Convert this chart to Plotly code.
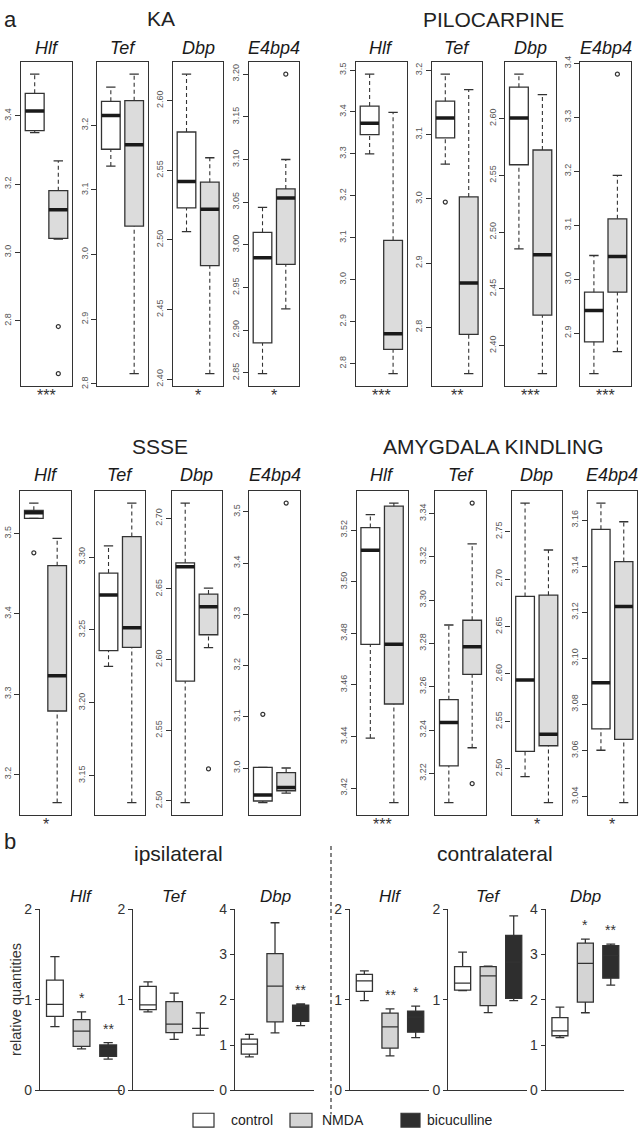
import plotly.graph_objects as go

W, H = 641, 1140

# ---------------- data: section a (R boxplots) ----------------
GENES_A = ["Hlf", "Tef", "Dbp", "E4bp4"]
# each box: (lower whisker, q1, median, q3, upper whisker)
KA_CONTROL = [(3.351, 3.357, 3.414, 3.466, 3.522),
              (3.137, 3.163, 3.215, 3.237, 3.259),
              (2.506, 2.523, 2.542, 2.5775, 2.619),
              (2.849, 2.885, 2.985, 3.0147, 3.044)]
KA_TREATED = [(3.039, 3.041, 3.125, 3.181, 3.268),
              (2.816, 3.044, 3.170, 3.238, 3.279),
              (2.404, 2.4815, 2.522, 2.5415, 2.559),
              (2.925, 2.977, 3.055, 3.0655, 3.100)]
KA_OUT_CONTROL = [[], [], [], []]
KA_OUT_TREATED = [[2.783, 2.645], [], [], [3.200]]
KA_STARS = ["***", "", "*", "*"]
KA_TICKS = [["2.8", "3.0", "3.2", "3.4"],
            ["2.8", "2.9", "3.0", "3.1", "3.2"],
            ["2.40", "2.45", "2.50", "2.55", "2.60"],
            ["2.85", "2.90", "2.95", "3.00", "3.05", "3.10", "3.15", "3.20"]]

PILO_CONTROL = [(3.300, 3.346, 3.373, 3.414, 3.490),
                (3.054, 3.095, 3.126, 3.152, 3.194),
                (2.4853, 2.5593, 2.6005, 2.6276, 2.639),
                (2.825, 2.884, 2.942, 2.976, 3.044)]
PILO_TREATED = [(2.776, 2.834, 2.871, 3.094, 3.399),
                (2.728, 2.789, 2.869, 3.003, 3.170),
                (2.3754, 2.4269, 2.480, 2.5723, 2.621),
                (2.866, 2.976, 3.042, 3.112, 3.1925)]
PILO_OUT_CONTROL = [[], [2.995], [], []]
PILO_OUT_TREATED = [[], [], [], [3.380]]
PILO_STARS = ["***", "**", "***", "***"]
PILO_TICKS = [["2.8", "2.9", "3.0", "3.1", "3.2", "3.3", "3.4", "3.5"],
              ["2.8", "2.9", "3.0", "3.1", "3.2"],
              ["2.40", "2.45", "2.50", "2.55", "2.60", "2.65"],
              ["2.9", "3.0", "3.1", "3.2", "3.3", "3.4"]]

SSSE_CONTROL = [(3.519, 3.519, 3.526, 3.529, 3.538),
                (3.225, 3.2358, 3.274, 3.289, 3.3077),
                (2.4988, 2.5847, 2.6657, 2.6685, 2.7108),
                (2.933, 2.936, 2.9475, 3.0015, 3.0015)]
SSSE_TREATED = [(3.165, 3.279, 3.323, 3.460, 3.494),
                (3.1315, 3.238, 3.2514, 3.314, 3.337),
                (2.6085, 2.6176, 2.6375, 2.6464, 2.6506),
                (2.9514, 2.956, 2.9625, 2.9914, 3.0003)]
SSSE_OUT_CONTROL = [[3.476], [], [], [3.105]]
SSSE_OUT_TREATED = [[], [], [2.5226], [3.5168]]
SSSE_STARS = ["*", "", "", ""]
SSSE_TICKS = [["3.2", "3.3", "3.4", "3.5"],
              ["3.15", "3.20", "3.25", "3.30"],
              ["2.50", "2.55", "2.60", "2.65", "2.70"],
              ["3.0", "3.1", "3.2", "3.3", "3.4", "3.5"]]

AMY_CONTROL = [(3.4394, 3.4757, 3.5122, 3.521, 3.526),
               (3.2065, 3.2234, 3.2435, 3.254, 3.2885),
               (2.492, 2.5184, 2.5938, 2.6817, 2.780),
               (3.0601, 3.0694, 3.0894, 3.156, 3.1674)]
AMY_TREATED = [(3.4144, 3.4526, 3.4758, 3.5293, 3.5305),
               (3.2318, 3.2657, 3.2784, 3.2907, 3.326),
               (2.4646, 2.5244, 2.5365, 2.683, 2.7306),
               (3.0374, 3.0648, 3.1225, 3.142, 3.1593)]
AMY_OUT_CONTROL = [[], [], [], []]
AMY_OUT_TREATED = [[], [3.3448, 3.2152], [], []]
AMY_STARS = ["***", "", "*", "*"]
AMY_TICKS = [["3.42", "3.44", "3.46", "3.48", "3.50", "3.52"],
             ["3.22", "3.24", "3.26", "3.28", "3.30", "3.32", "3.34"],
             ["2.50", "2.55", "2.60", "2.65", "2.70", "2.75"],
             ["3.04", "3.06", "3.08", "3.10", "3.12", "3.14", "3.16"]]

# ---------------- data: section b ----------------
GENES_B = ["Hlf", "Tef", "Dbp"]
GROUPS_B = ["control", "NMDA", "bicuculline"]
IPSI_CONTROL = [(0.702, 0.817, 0.948, 1.217, 1.475),
                (0.865, 0.890, 0.944, 1.148, 1.198),
                (0.74, 0.80, 1.02, 1.13, 1.235)]
IPSI_NMDA = [(0.458, 0.484, 0.654, 0.781, 0.865),
             (0.563, 0.636, 0.730, 0.980, 1.072),
             (1.27, 1.51, 2.30, 3.02, 3.70)]
IPSI_BIC = [(0.345, 0.375, 0.458, 0.501, 0.527),
            (0.610, 0.683, 0.683, 0.683, 0.854),
            (1.43, 1.525, 1.86, 1.88, 1.91)]
IPSI_STARS = [["", "*", "**"], ["", "", ""], ["", "", "**"]]
CONTRA_CONTROL = [(0.991, 1.093, 1.209, 1.281, 1.318),
                  (1.10, 1.107, 1.183, 1.365, 1.525),
                  (1.162, 1.205, 1.314, 1.604, 1.837)]
CONTRA_NMDA = [(0.381, 0.465, 0.701, 0.853, 0.900),
               (0.857, 0.936, 1.263, 1.365, 1.372),
               (1.713, 1.946, 2.802, 3.252, 3.339)]
CONTRA_BIC = [(0.581, 0.642, 0.809, 0.875, 0.929),
              (0.991, 1.016, 1.416, 1.710, 1.927),
              (2.323, 2.476, 2.976, 3.194, 3.230)]
CONTRA_STARS = [["", "**", "*"], ["", "", ""], ["", "*", "**"]]
B_TICKS = [[0, 1, 2], [0, 1, 2], [0, 1, 2, 3, 4]]

# ---------------- style ----------------
FONT = "Liberation Sans, Arial, sans-serif"
LINE = "#333333"
FILL_A = ["#ffffff", "#dcdcdc"]
FILL_B = ["#ffffff", "#d4d4d4", "#2e2e2e"]

fig = go.Figure()
lay = {}
ann = []
shp = []
counter = [0]


def px(v):
    return v / W


def py(v):
    return 1 - v / H


def new_axes(x0, x1, ytop, ybot, xkw, ykw):
    counter[0] += 1
    n = counter[0]
    sx = "" if n == 1 else str(n)
    lay["xaxis" + sx] = dict(domain=[px(x0), px(x1)], anchor="y" + sx, **xkw)
    lay["yaxis" + sx] = dict(domain=[py(ybot), py(ytop)], anchor="x" + sx, **ykw)
    return "x" + sx, "y" + sx


def panel_a(x0, x1, ytop, ybot, ctrl, trt, out_c, out_t, ticks, star, gene, gene_y):
    vals = list(ctrl) + list(trt) + out_c + out_t
    lo, hi = min(vals), max(vals)
    pad = 0.04 * (hi - lo)
    xr, yr = new_axes(
        x0, x1, ytop, ybot,
        dict(range=[0.42, 2.58], showline=True, mirror=True, linecolor=LINE,
             linewidth=1.3, showticklabels=False, ticks="", showgrid=False,
             zeroline=False),
        dict(range=[lo - pad, hi + pad], showline=True, mirror=True,
             linecolor=LINE, linewidth=1.3, tickvals=[float(t) for t in ticks],
             ticktext=ticks, ticks="outside", ticklen=5, tickcolor=LINE,
             tickwidth=1, tickangle=-90, showgrid=False, zeroline=False,
             tickfont=dict(family=FONT, size=9, color="#555555")))
    for pos, st, fill, outs in [(1, ctrl, FILL_A[0], out_c), (2, trt, FILL_A[1], out_t)]:
        lw, q1, med, q3, uw = st
        fig.add_trace(go.Scatter(x=[pos, pos, None, pos, pos], y=[lw, q1, None, q3, uw],
                                 mode="lines", line=dict(color=LINE, width=1.1, dash="4px,3px"),
                                 xaxis=xr, yaxis=yr, hoverinfo="skip"))
        fig.add_trace(go.Scatter(x=[pos - 0.2, pos + 0.2, None, pos - 0.2, pos + 0.2],
                                 y=[lw, lw, None, uw, uw], mode="lines",
                                 line=dict(color=LINE, width=1.3),
                                 xaxis=xr, yaxis=yr, hoverinfo="skip"))
        fig.add_trace(go.Box(x=[pos], q1=[q1], median=[med], q3=[q3],
                             lowerfence=[q1], upperfence=[q3], width=0.8,
                             whiskerwidth=0, fillcolor=fill,
                             line=dict(color=LINE, width=1.3), boxpoints=False,
                             xaxis=xr, yaxis=yr, hoverinfo="skip"))
        fig.add_trace(go.Scatter(x=[pos - 0.4, pos + 0.4], y=[med, med], mode="lines",
                                 line=dict(color="#1a1a1a", width=3.5),
                                 xaxis=xr, yaxis=yr, hoverinfo="skip"))
        if outs:
            fig.add_trace(go.Scatter(x=[pos] * len(outs), y=outs, mode="markers",
                                     marker=dict(symbol="circle-open", size=4,
                                                 color=LINE, line=dict(width=1.2)),
                                     xaxis=xr, yaxis=yr, hoverinfo="skip"))
    xc = px((x0 + x1) / 2)
    if star:
        ann.append(dict(x=xc, y=py(ybot + 10), xref="paper", yref="paper", text=star,
                        showarrow=False, font=dict(family=FONT, size=16, color="#333"),
                        xanchor="center", yanchor="middle"))
    ann.append(dict(x=xc, y=py(gene_y), xref="paper", yref="paper",
                    text="<i>" + gene + "</i>", showarrow=False,
                    font=dict(family=FONT, size=18, color="#1a1a1a"),
                    xanchor="center", yanchor="middle"))


def panel_b(x0, x1, ticks, stats, stars, gene):
    xr, yr = new_axes(
        x0, x1, 914, 1097.7,
        dict(range=[0.44, 3.52], showline=True, linecolor=LINE, linewidth=1.3,
             showticklabels=False, ticks="", showgrid=False, zeroline=False),
        dict(range=[0, max(ticks)], showline=True, linecolor=LINE, linewidth=1.3,
             tickvals=ticks, ticks="outside", ticklen=4, tickcolor=LINE,
             showgrid=False, zeroline=False,
             tickfont=dict(family=FONT, size=14, color="#333")))
    for i, (st, fill, star) in enumerate(zip(stats, FILL_B, stars)):
        lw, q1, med, q3, uw = st
        pos = i + 1
        fig.add_trace(go.Box(x=[pos], q1=[q1], median=[med], q3=[q3],
                             lowerfence=[lw], upperfence=[uw], width=0.63,
                             whiskerwidth=0.55, fillcolor=fill,
                             line=dict(color=LINE, width=1.3), boxpoints=False,
                             xaxis=xr, yaxis=yr, hoverinfo="skip"))
        if star:
            ann.append(dict(x=pos, y=uw, xref=xr, yref=yr, text=star, yshift=14,
                            showarrow=False, font=dict(family=FONT, size=14, color="#333"),
                            xanchor="center", yanchor="middle"))
    ann.append(dict(x=2, y=max(ticks), xref=xr, yref=yr, text="<i>" + gene + "</i>",
                    yshift=13, showarrow=False,
                    font=dict(family=FONT, size=17, color="#1a1a1a"),
                    xanchor="center", yanchor="middle"))


# ---------------- section a panels ----------------
FRAMES_TOP_L = [(21, 72), (97.3, 147.7), (173, 223.3), (249, 299.3)]
FRAMES_TOP_R = [(356, 406.7), (431.7, 482.3), (505.3, 556), (580.3, 631)]
FRAMES_BOT_L = [(20.3, 70.7), (95, 145.3), (171.7, 222), (249.3, 299.7)]
FRAMES_BOT_R = [(356.7, 407.5), (435.3, 485.7), (511.5, 562), (587.7, 637)]

for frames, ytop, ybot, gy, C, T, OC, OT, TK, ST in [
    (FRAMES_TOP_L, 55, 383, 41, KA_CONTROL, KA_TREATED, KA_OUT_CONTROL, KA_OUT_TREATED, KA_TICKS, KA_STARS),
    (FRAMES_TOP_R, 55, 383, 41, PILO_CONTROL, PILO_TREATED, PILO_OUT_CONTROL, PILO_OUT_TREATED, PILO_TICKS, PILO_STARS),
    (FRAMES_BOT_L, 490, 818, 474, SSSE_CONTROL, SSSE_TREATED, SSSE_OUT_CONTROL, SSSE_OUT_TREATED, SSSE_TICKS, SSSE_STARS),
    (FRAMES_BOT_R, 490, 818, 474, AMY_CONTROL, AMY_TREATED, AMY_OUT_CONTROL, AMY_OUT_TREATED, AMY_TICKS, AMY_STARS),
]:
    for k, (x0, x1) in enumerate(frames):
        panel_a(x0, x1, ytop, ybot, C[k], T[k], OC[k], OT[k], TK[k], ST[k], GENES_A[k], gy)

# ---------------- section b panels ----------------
B_FRAMES = [(40, 122), (133.3, 214), (235, 314), (350, 429), (448.3, 527), (545.7, 624)]
for k in range(3):
    panel_b(B_FRAMES[k][0], B_FRAMES[k][1], B_TICKS[k],
            [IPSI_CONTROL[k], IPSI_NMDA[k], IPSI_BIC[k]], IPSI_STARS[k], GENES_B[k])
for k in range(3):
    panel_b(B_FRAMES[3 + k][0], B_FRAMES[3 + k][1], B_TICKS[k],
            [CONTRA_CONTROL[k], CONTRA_NMDA[k], CONTRA_BIC[k]], CONTRA_STARS[k], GENES_B[k])

# ---------------- titles & labels ----------------
def text(x, y, s, size, anchor="center", angle=0, color="#222"):
    ann.append(dict(x=px(x), y=py(y), xref="paper", yref="paper", text=s,
                    showarrow=False, xanchor=anchor, yanchor="middle", textangle=angle,
                    font=dict(family=FONT, size=size, color=color)))


text(10, 12, "a", 22)
text(161, 11, "KA", 21)
text(493, 12, "PILOCARPINE", 21)
text(160, 445, "SSSE", 21)
text(493, 445, "AMYGDALA KINDLING", 21)
text(10, 845, "b", 22)
text(178, 858, "ipsilateral", 21)
text(495, 858, "contralateral", 21)
text(16, 1006, "relative quantities", 14.5, angle=-90, color="#333")

# divider
shp.append(dict(type="line", xref="paper", yref="paper", x0=px(331), x1=px(331),
                y0=py(850), y1=py(1122), line=dict(color="#444", width=1.3, dash="4px,3px")))

# legend
LEG_X = [(193, 214, 229), (290, 312, 320), (401, 420, 425)]
for (a0, a1, tx), fill, name in zip(LEG_X, FILL_B, GROUPS_B):
    shp.append(dict(type="rect", xref="paper", yref="paper", x0=px(a0), x1=px(a1),
                    y0=py(1135), y1=py(1121), fillcolor=fill,
                    line=dict(color=LINE, width=1.2)))
    text(tx, 1128, name, 14, anchor="left", color="#222")

fig.update_layout(width=W, height=H, margin=dict(l=0, r=0, t=0, b=0),
                  paper_bgcolor="white", plot_bgcolor="rgba(0,0,0,0)",
                  showlegend=False, boxmode="overlay",
                  annotations=ann, shapes=shp, **lay)
fig.write_html("out.html", config={"displayModeBar": False},
               post_script="document.body.style.margin='0';document.body.style.overflow='hidden';")
